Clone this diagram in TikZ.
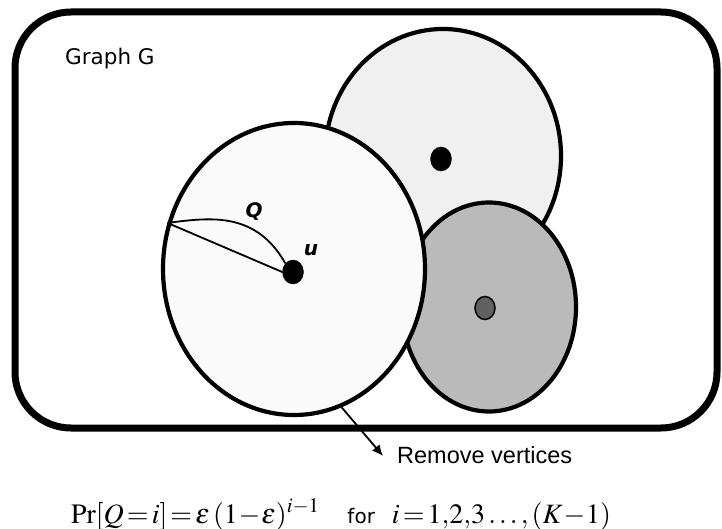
\documentclass[tikz,border=0pt]{standalone}
\usepackage{mathptmx}
\usepackage[no-math]{fontspec}
\newfontfamily\labelfont{DejaVu Sans}
\newfontfamily\arialfont{Liberation Sans}
\usetikzlibrary{arrows.meta,shapes.geometric}
\begin{document}
\begin{tikzpicture}[x=1pt,y=-1pt,
  blob/.style={ellipse, draw=black, line width=4.2pt, inner sep=0pt},
  vdot/.style={ellipse, draw=black, line width=1.5pt, inner sep=0pt, minimum width=20pt, minimum height=23pt},
  pathlbl/.style={font=\labelfont\bfseries\itshape\fontsize{20}{22}\selectfont, inner sep=0pt},
  thinline/.style={line width=1.8pt}]
\useasboundingbox (0,0) rectangle (722,529);
% frame
\draw[line width=7pt, rounded corners=56pt] (15,12) rectangle (717,428);
\node[font=\labelfont\fontsize{21.5}{24}\selectfont, anchor=base west, inner sep=0pt] (title) at (65,65) {Graph G};
% ellipses
\node[blob, fill=black!6, minimum width=236pt, minimum height=254pt] (upper) at (443,156) {};
\node[blob, fill=black!27, minimum width=174pt, minimum height=209pt] (lower) at (489,307) {};
\node[blob, fill=black!2, minimum width=262pt, minimum height=292pt] (big) at (294,269) {};
% dots
\node[vdot, fill=black] (d1) at (441,159) {};
\node[vdot, fill=black!62] (d2) at (485,308) {};
\node[vdot, fill=black] (u) at (293,272) {};
% path Q
\draw[thinline] (big.160) -- (u.west);
\draw[thinline] (big.160) .. controls (212,217) and (256,212) .. (u.north west);
\node[pathlbl] (qlbl) at (254,212) {Q};
\node[pathlbl] (ulbl) at (311,250) {u};
% remove arrow
\coordinate (tip) at (383,456);
\draw[thinline, -{Latex[length=11pt,width=10pt]}] (big.-71) -- (tip);
\node[font=\arialfont\fontsize{23.5}{26}\selectfont, anchor=base west, inner sep=0pt] (rm) at (397,463) {Remove vertices};
% formula
\node[font=\fontsize{28}{30}\selectfont, inner sep=0pt, anchor=base] (formula) at (341,523)
  {$\Pr[Q\!=\!i]\!=\!\varepsilon\,(1\!-\!\varepsilon)^{i-1}$\quad{\labelfont\fontsize{20}{22}\selectfont for}\ \ $i\!=\!1,\!2,\!3\ldots,(K\!-\!1)$};
\end{tikzpicture}
\end{document}
